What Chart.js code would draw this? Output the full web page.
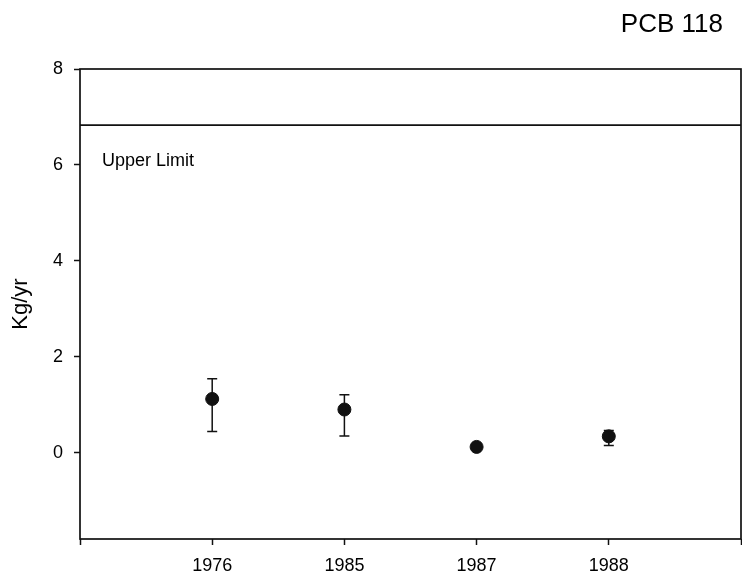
<!DOCTYPE html>
<html>
<head>
<meta charset="utf-8">
<title>PCB 118</title>
<script src="https://cdn.jsdelivr.net/npm/chart.js@4.4.0/dist/chart.umd.min.js"></script>
<style>
  html, body { margin: 0; padding: 0; background: #fff; }
  #wrap { width: 742px; height: 574px; position: relative; }
</style>
</head>
<body>
<div id="wrap"><canvas id="myChart"></canvas></div>
<script>
// data
var years = ['1976', '1985', '1987', '1988'];
var loads = [1.12, 0.90, 0.12, 0.34];
var errHigh = [1.54, 1.21, null, 0.46];
var errLow = [0.44, 0.35, null, 0.15];
var upperLimit = 6.83;
var yTicks = [0, 2, 4, 6, 8];
var yMin = -1.8, yMax = 8;
var xMin = 0, xMax = years.length + 1;

var ink = '#111';
var textInk = '#000';
var fontFamily = '"Liberation Sans", Arial, sans-serif';

var extras = {
  id: 'extras',
  afterDatasetsDraw: function (chart) {
    var ctx = chart.ctx;
    var area = chart.chartArea;
    var xs = chart.scales.x, ys = chart.scales.y;
    ctx.save();
    // frame
    ctx.strokeStyle = ink;
    ctx.lineWidth = 1.7;
    ctx.strokeRect(area.left, area.top, area.right - area.left, area.bottom - area.top);
    // error bars
    ctx.lineWidth = 1.5;
    for (var i = 0; i < years.length; i++) {
      if (errHigh[i] == null) continue;
      var px = xs.getPixelForValue(i + 1);
      var top = ys.getPixelForValue(errHigh[i]);
      var bot = ys.getPixelForValue(errLow[i]);
      ctx.beginPath();
      ctx.moveTo(px, top); ctx.lineTo(px, bot);
      ctx.moveTo(px - 5, top); ctx.lineTo(px + 5, top);
      ctx.moveTo(px - 5, bot); ctx.lineTo(px + 5, bot);
      ctx.stroke();
    }
    // labels
    ctx.fillStyle = textInk;
    ctx.font = '18px ' + fontFamily;
    ctx.textAlign = 'left';
    ctx.textBaseline = 'middle';
    ctx.fillText('Upper Limit', area.left + 22, ys.getPixelForValue(upperLimit) + 36);
    ctx.font = '26px ' + fontFamily;
    ctx.textAlign = 'right';
    ctx.fillText('PCB 118', area.right - 18, 25);
    ctx.restore();
  }
};

var ctx = document.getElementById('myChart').getContext('2d');
var chart = new Chart(ctx, {
  type: 'scatter',
  data: {
    datasets: [{
      label: 'PCB 118',
      data: loads.map(function (v, i) { return { x: i + 1, y: v }; }),
      backgroundColor: ink,
      borderColor: ink,
      pointRadius: 6.5,
      pointHoverRadius: 6.5
    }, {
      type: 'line',
      label: 'Upper Limit',
      data: [{ x: xMin, y: upperLimit }, { x: xMax, y: upperLimit }],
      borderColor: ink,
      borderWidth: 1.7,
      pointRadius: 0,
      fill: false
    }]
  },
  options: {
    responsive: true,
    maintainAspectRatio: false,
    animation: false,
    devicePixelRatio: 1,
    layout: { autoPadding: false, padding: { top: 69, right: 1, left: 0, bottom: 0 } },
    plugins: {
      legend: { display: false },
      tooltip: { enabled: false }
    },
    scales: {
      x: {
        type: 'linear',
        min: xMin,
        max: xMax,
        afterBuildTicks: function (scale) {
          var t = [];
          for (var v = xMin; v <= xMax; v++) t.push({ value: v });
          scale.ticks = t;
        },
        afterFit: function (scale) {
          scale.height = 35;
          scale.paddingLeft = 0;
          scale.paddingRight = 0;
        },
        border: { display: false },
        grid: { drawOnChartArea: false, tickLength: 6, tickColor: ink, tickWidth: 1.5 },
        ticks: {
          color: textInk,
          padding: 10,
          maxRotation: 0,
          autoSkip: false,
          font: { family: fontFamily, size: 18 },
          callback: function (v) { return years[v - 1] || ''; }
        }
      },
      y: {
        min: yMin,
        max: yMax,
        afterBuildTicks: function (scale) {
          scale.ticks = yTicks.map(function (v) { return { value: v }; });
        },
        afterFit: function (scale) { scale.width = 80; },
        border: { display: false },
        grid: { drawOnChartArea: false, tickLength: 6, tickColor: ink, tickWidth: 1.5 },
        ticks: {
          color: textInk,
          padding: 11,
          font: { family: fontFamily, size: 18 }
        },
        title: {
          display: true,
          text: 'Kg/yr',
          color: textInk,
          padding: { top: 8, bottom: 0 },
          font: { family: fontFamily, size: 22 }
        }
      }
    }
  },
  plugins: [extras]
});
</script>
</body>
</html>
